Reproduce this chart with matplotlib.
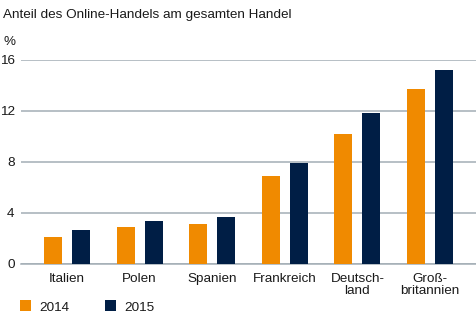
import matplotlib.pyplot as plt
import numpy as np
from matplotlib.patches import Patch

plt.rcParams['font.family'] = ['Liberation Sans', 'DejaVu Sans']

# data
laender = ['Italien', 'Polen', 'Spanien', 'Frankreich', 'Deutsch-\nland', 'Groß-\nbritannien']
werte_2014 = [2.1, 2.85, 3.1, 6.9, 10.15, 13.65]
werte_2015 = [2.6, 3.35, 3.65, 7.9, 11.8, 15.2]
jahre = ['2014', '2015']
y_ticks = [0, 4, 8, 12, 16]

orange = '#F08A00'
navy = '#001E45'
grid_col = '#A3ADB5'
text_col = '#1A1A1A'
fs = 9.7

W, H = 477, 325
fig = plt.figure(figsize=(W / 100, H / 100), dpi=100)
ax = fig.add_axes([21 / W, (H - 263.5) / H, 1 - 21 / W, 204 / H])

x = np.arange(len(laender))
bw = 0.248
off = 0.193
ax.bar(x - off, werte_2014, bw, color=orange, zorder=3)
ax.bar(x + off, werte_2015, bw, color=navy, zorder=3)

ax.set_xlim(-0.634, 5.647)
ax.set_ylim(0, 16)
ax.set_yticks(y_ticks)
ax.set_yticklabels([str(t) for t in y_ticks], fontsize=fs, color=text_col)
ax.set_xticks(x)
ax.set_xticklabels(laender, fontsize=fs, color=text_col, linespacing=0.95)
ax.tick_params(axis='both', length=0)
ax.tick_params(axis='y', pad=4.5)
ax.tick_params(axis='x', pad=7)
ax.yaxis.grid(True, color=grid_col, linewidth=1.1, zorder=0)
for s in ['top', 'right', 'left']:
    ax.spines[s].set_visible(False)
ax.spines['bottom'].set_color(grid_col)
ax.spines['bottom'].set_linewidth(1.1)

fig.text(3 / W, 1 - 15 / H, 'Anteil des Online-Handels am gesamten Handel',
         fontsize=fs, color=text_col, va='center', ha='left')
fig.text(3 / W, 1 - 42 / H, '%', fontsize=fs, color=text_col, va='center', ha='left')

handles = [Patch(facecolor=orange), Patch(facecolor=navy)]
fig.legend(handles, jahre, loc='center left', bbox_to_anchor=(20 / W, 1 - 307 / H),
           ncol=2, frameon=False, fontsize=fs, handlelength=0.85, handleheight=0.85,
           handletextpad=0.6, columnspacing=2.6, borderpad=0, borderaxespad=0,
           labelcolor=text_col)

fig.savefig('out.png', dpi=100)
